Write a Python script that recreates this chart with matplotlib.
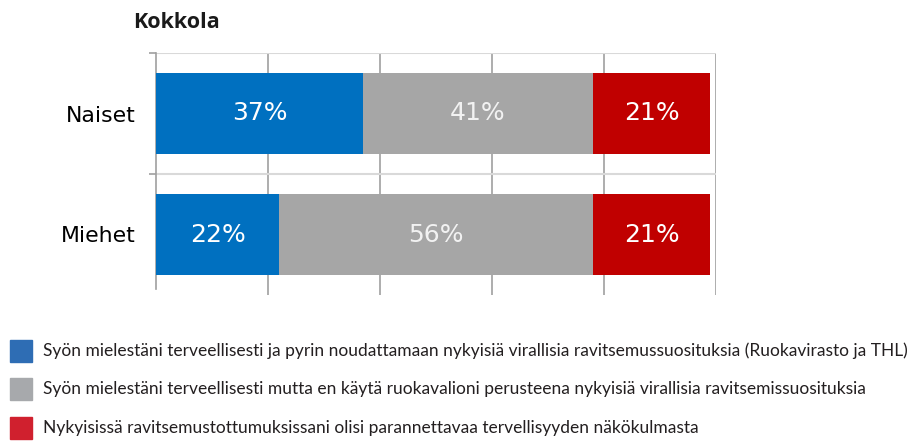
import matplotlib.pyplot as plt
import numpy as np

categories = ["Naiset", "Miehet"]
seg_labels = [
    "Syön mielestäni terveellisesti ja pyrin noudattamaan nykyisiä virallisia ravitsemussuosituksia (Ruokavirasto ja THL)",
    "Syön mielestäni terveellisesti mutta en käytä ruokavalioni perusteena nykyisiä virallisia ravitsemissuosituksia",
    "Nykyisissä ravitsemustottumuksissani olisi parannettavaa tervellisyyden näkökulmasta",
]
healthy_official = [37, 22]
healthy_other = [41, 56]
needs_improving = [21, 21]

bar_colors = ["#0070C0", "#A6A6A6", "#C00000"]
legend_colors = ["#2E6DB4", "#A7A9AC", "#D0202E"]
text_colors = ["white", "#F2F2F2", "white"]

fig = plt.figure(figsize=(9.1, 4.41), dpi=100)
ax = fig.add_axes([156 / 910, 1 - 295 / 441, 560 / 910, 242 / 441])

y = np.arange(len(categories))
left = np.zeros(len(categories))
for vals, col, tcol in zip([healthy_official, healthy_other, needs_improving], bar_colors, text_colors):
    vals = np.array(vals, dtype=float)
    bars = ax.barh(y, vals, left=left, height=0.67, color=col, zorder=3)
    for b, v in zip(bars, vals):
        ax.text(b.get_x() + b.get_width() / 2, b.get_y() + b.get_height() / 2,
                f"{v:.0f}%", ha="center", va="center", color=tcol, fontsize=18, zorder=4)
    left += vals

ax.set_xlim(0, 100)
ax.set_ylim(len(categories) - 0.5, -0.5)
ax.set_xticks([20, 40, 60, 80, 100])
ax.tick_params(axis="x", length=0, labelbottom=False)
ax.grid(axis="x", color="#A0A0A0", lw=1.2, zorder=1)
ax.set_yticks(y)
ax.set_yticklabels(categories, fontsize=15.8)
ax.tick_params(axis="y", length=0, pad=15)
ax.set_yticks([-0.5, 0.5], minor=True)
ax.tick_params(axis="y", which="minor", length=5, color="#A0A0A0", width=1.2)
for b in [-0.5, 0.5]:
    ax.axhline(b, color="#D9D9D9", lw=1.5, zorder=2)
for s in ["top", "right", "bottom"]:
    ax.spines[s].set_visible(False)
ax.spines["left"].set_color("#A0A0A0")
ax.spines["left"].set_linewidth(1.2)
ax.spines["left"].set_bounds(-0.5, 1.45)

fig.text(133 / 910, 1 - 22 / 441, "Kokkola", fontsize=15.5, fontweight="bold",
         family=["Open Sans", "DejaVu Sans"], ha="left", va="center", color="#1a1a1a")

leg_y = [351, 389, 428]
for lab, col, yy in zip(seg_labels, legend_colors, leg_y):
    fig.patches.append(plt.Rectangle((10 / 910, 1 - (yy + 11) / 441), 22 / 910, 22 / 441,
                                     transform=fig.transFigure, color=col))
    fig.text(43 / 910, 1 - yy / 441, lab, fontsize=12.5, family=["Lato", "DejaVu Sans"],
             ha="left", va="center", color="#231F20")

fig.savefig("out.png", dpi=100)
